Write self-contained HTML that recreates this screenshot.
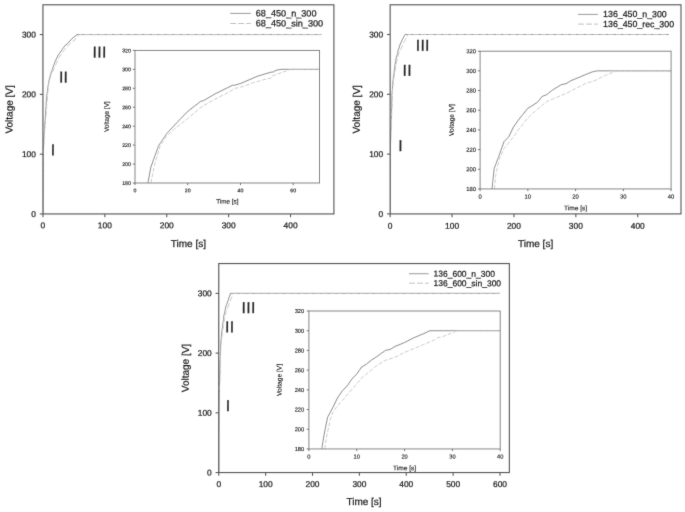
<!DOCTYPE html>
<html lang="en"><head><meta charset="utf-8"><title>Voltage vs time</title>
<style>
html,body{margin:0;padding:0;background:#fff;}
body{width:685px;height:512px;overflow:hidden;}
svg{display:block;}
svg text{font-family:'Liberation Sans', Arial, sans-serif;stroke:#1e1e1e;stroke-width:0.24px;text-rendering:geometricPrecision;}
svg text.s{stroke-width:0.15px;fill:#262626;stroke:#262626;}
</style></head><body>
<svg width="685" height="512" viewBox="0 0 685 512">
<defs><filter id="soft" x="0" y="0" width="685" height="512" filterUnits="userSpaceOnUse"><feConvolveMatrix order="3" kernelMatrix="0.0086 0.0757 0.0086 0.0757 0.6628 0.0757 0.0086 0.0757 0.0086" edgeMode="none" preserveAlpha="false"/></filter></defs>
<rect width="685" height="512" fill="#fff"/>
<g filter="url(#soft)">
<clipPath id="cm1"><rect x="42.95" y="4.8" width="290.95" height="209.15"/></clipPath>
<g clip-path="url(#cm1)" fill="none" stroke-opacity="0.78">
<path d="M42.95 213.95 L43.04 178.07 L43.44 148.17 L44.19 132.62 L45.32 117.07 L45.98 106.31 L46.66 96.38 L48.52 82.63 L50.5 74.8 L52.23 69.83 L53.66 65.71 L55.33 61.1 L58.36 54.76 L59.04 54.28 L61.89 49.86 L65.85 44.6 L66.47 44.48 L67.71 43.52 L71.73 38.86 L74.89 36.34 L75.45 36.16 L76.07 35.15 L77.24 34.55 L321.5 34.55" stroke="#222" stroke-width="0.65"/>
<path d="M42.95 213.95 L43.06 178.07 L43.54 148.17 L44.47 132.62 L45.85 117.07 L46.66 106.31 L47.59 94.35 L48.83 82.99 L50.38 76.41 L52.23 72.22 L55.33 65.65 L58.43 58.47 L61.52 53.69 L64.62 49.5 L66.47 46.51 L67.71 45.91 L70.81 42.92 L73.9 40.53 L74.83 40.23 L75.14 38.74 L77 36.94 L79.47 34.55 L321.5 34.55" stroke="#c6c6c6" stroke-width="0.95" stroke-opacity="1" stroke-dasharray="5.3 2.2"/>
</g>
<rect x="42.95" y="4.8" width="290.95" height="209.15" fill="none" stroke="#5a5a5a" stroke-width="1.15"/>
<line x1="42.95" y1="213.95" x2="42.95" y2="217.25" stroke="#5a5a5a" stroke-width="1.1"/>
<text transform="translate(42.95 228.35) rotate(0.2)" font-size="8.4" text-anchor="middle" fill="#1e1e1e">0</text>
<line x1="104.85" y1="213.95" x2="104.85" y2="217.25" stroke="#5a5a5a" stroke-width="1.1"/>
<text transform="translate(104.85 228.35) rotate(0.2)" font-size="8.4" text-anchor="middle" fill="#1e1e1e">100</text>
<line x1="166.75" y1="213.95" x2="166.75" y2="217.25" stroke="#5a5a5a" stroke-width="1.1"/>
<text transform="translate(166.75 228.35) rotate(0.2)" font-size="8.4" text-anchor="middle" fill="#1e1e1e">200</text>
<line x1="228.65" y1="213.95" x2="228.65" y2="217.25" stroke="#5a5a5a" stroke-width="1.1"/>
<text transform="translate(228.65 228.35) rotate(0.2)" font-size="8.4" text-anchor="middle" fill="#1e1e1e">300</text>
<line x1="290.55" y1="213.95" x2="290.55" y2="217.25" stroke="#5a5a5a" stroke-width="1.1"/>
<text transform="translate(290.55 228.35) rotate(0.2)" font-size="8.4" text-anchor="middle" fill="#1e1e1e">400</text>
<line x1="39.75" y1="213.95" x2="42.95" y2="213.95" stroke="#5a5a5a" stroke-width="1.1"/>
<text transform="translate(35.95 216.95) rotate(0.2)" font-size="8.4" text-anchor="end" fill="#1e1e1e">0</text>
<line x1="39.75" y1="154.15" x2="42.95" y2="154.15" stroke="#5a5a5a" stroke-width="1.1"/>
<text transform="translate(35.95 157.15) rotate(0.2)" font-size="8.4" text-anchor="end" fill="#1e1e1e">100</text>
<line x1="39.75" y1="94.35" x2="42.95" y2="94.35" stroke="#5a5a5a" stroke-width="1.1"/>
<text transform="translate(35.95 97.35) rotate(0.2)" font-size="8.4" text-anchor="end" fill="#1e1e1e">200</text>
<line x1="39.75" y1="34.55" x2="42.95" y2="34.55" stroke="#5a5a5a" stroke-width="1.1"/>
<text transform="translate(35.95 37.55) rotate(0.2)" font-size="8.4" text-anchor="end" fill="#1e1e1e">300</text>
<text transform="translate(188.42 247.05) rotate(0.2)" font-size="10" text-anchor="middle" fill="#1e1e1e">Time [s]</text>
<text transform="translate(12.65 109.38) rotate(-89.8)" font-size="10" text-anchor="middle" fill="#1e1e1e">Voltage [V]</text>
<text transform="translate(53.05 155.35) rotate(0.2)" font-size="15.8" text-anchor="middle" fill="#2a2a2a" letter-spacing="0.32" stroke="#2a2a2a" stroke-width="0.3">I</text>
<text transform="translate(63.58 82.55) rotate(0.2)" font-size="15.8" text-anchor="middle" fill="#2a2a2a" letter-spacing="0.32" stroke="#2a2a2a" stroke-width="0.3">II</text>
<text transform="translate(99.55 57.45) rotate(0.2)" font-size="15.8" text-anchor="middle" fill="#2a2a2a" letter-spacing="0.32" stroke="#2a2a2a" stroke-width="0.3">III</text>
<line x1="230.2" y1="13.4" x2="250.8" y2="13.4" stroke="#222" stroke-width="0.8" stroke-opacity="0.58"/>
<text transform="translate(255.8 16.3) rotate(0.2)" font-size="9.1" fill="#1e1e1e">68_450_n_300</text>
<line x1="230.2" y1="23.5" x2="250.8" y2="23.5" stroke="#b0b0b0" stroke-width="0.8" stroke-opacity="1" stroke-dasharray="5.9 2.15"/>
<text transform="translate(255.8 26.3) rotate(0.2)" font-size="9.1" fill="#1e1e1e">68_450_sin_300</text>
<clipPath id="ci1"><rect x="135" y="50.4" width="184.55" height="132.6"/></clipPath>
<g clip-path="url(#ci1)" fill="none" stroke-opacity="0.78">
<path d="M147.92 183 L150.82 167.28 L158.73 145.49 L167.16 133.09 L174.55 125.22 L180.61 118.69 L187.73 111.4 L200.65 101.36 L203.55 100.6 L215.67 93.59 L232.55 85.25 L235.18 85.07 L240.46 83.55 L257.59 76.16 L271.04 72.18 L273.41 71.9 L276.05 70.29 L281.06 69.34 L319.55 69.34" stroke="#222" stroke-width="0.65"/>
<path d="M150.82 183 L154.77 164.06 L160.05 146.06 L166.64 135.64 L174.55 129.01 L187.73 118.59 L200.91 107.23 L214.09 99.65 L227.28 93.02 L235.18 88.29 L240.46 87.34 L253.64 82.6 L266.82 78.81 L270.78 78.34 L272.09 75.97 L280 73.13 L290.55 69.34 L319.55 69.34" stroke="#c6c6c6" stroke-width="0.9" stroke-opacity="1" stroke-dasharray="4.0 1.8"/>
</g>
<rect x="135" y="50.4" width="184.55" height="132.6" fill="none" stroke="#7a7a7a" stroke-width="0.9"/>
<line x1="135" y1="183" x2="135" y2="185.2" stroke="#5a5a5a" stroke-width="0.8"/>
<text transform="translate(135 192.29) rotate(0.2)" font-size="5.19" text-anchor="middle" fill="#1e1e1e" class="s">0</text>
<line x1="187.73" y1="183" x2="187.73" y2="185.2" stroke="#5a5a5a" stroke-width="0.8"/>
<text transform="translate(187.73 192.29) rotate(0.2)" font-size="5.19" text-anchor="middle" fill="#1e1e1e" class="s">20</text>
<line x1="240.46" y1="183" x2="240.46" y2="185.2" stroke="#5a5a5a" stroke-width="0.8"/>
<text transform="translate(240.46 192.29) rotate(0.2)" font-size="5.19" text-anchor="middle" fill="#1e1e1e" class="s">40</text>
<line x1="293.19" y1="183" x2="293.19" y2="185.2" stroke="#5a5a5a" stroke-width="0.8"/>
<text transform="translate(293.19 192.29) rotate(0.2)" font-size="5.19" text-anchor="middle" fill="#1e1e1e" class="s">60</text>
<line x1="132.8" y1="183" x2="135" y2="183" stroke="#5a5a5a" stroke-width="0.8"/>
<text transform="translate(130.8 185) rotate(0.2)" font-size="5.19" text-anchor="end" fill="#1e1e1e" class="s">180</text>
<line x1="132.8" y1="164.06" x2="135" y2="164.06" stroke="#5a5a5a" stroke-width="0.8"/>
<text transform="translate(130.8 166.05) rotate(0.2)" font-size="5.19" text-anchor="end" fill="#1e1e1e" class="s">200</text>
<line x1="132.8" y1="145.11" x2="135" y2="145.11" stroke="#5a5a5a" stroke-width="0.8"/>
<text transform="translate(130.8 147.11) rotate(0.2)" font-size="5.19" text-anchor="end" fill="#1e1e1e" class="s">220</text>
<line x1="132.8" y1="126.17" x2="135" y2="126.17" stroke="#5a5a5a" stroke-width="0.8"/>
<text transform="translate(130.8 128.17) rotate(0.2)" font-size="5.19" text-anchor="end" fill="#1e1e1e" class="s">240</text>
<line x1="132.8" y1="107.23" x2="135" y2="107.23" stroke="#5a5a5a" stroke-width="0.8"/>
<text transform="translate(130.8 109.23) rotate(0.2)" font-size="5.19" text-anchor="end" fill="#1e1e1e" class="s">260</text>
<line x1="132.8" y1="88.29" x2="135" y2="88.29" stroke="#5a5a5a" stroke-width="0.8"/>
<text transform="translate(130.8 90.28) rotate(0.2)" font-size="5.19" text-anchor="end" fill="#1e1e1e" class="s">280</text>
<line x1="132.8" y1="69.34" x2="135" y2="69.34" stroke="#5a5a5a" stroke-width="0.8"/>
<text transform="translate(130.8 71.34) rotate(0.2)" font-size="5.19" text-anchor="end" fill="#1e1e1e" class="s">300</text>
<line x1="132.8" y1="50.4" x2="135" y2="50.4" stroke="#5a5a5a" stroke-width="0.8"/>
<text transform="translate(130.8 52.4) rotate(0.2)" font-size="5.19" text-anchor="end" fill="#1e1e1e" class="s">320</text>
<text transform="translate(227.28 203.47) rotate(0.2)" font-size="6.34" text-anchor="middle" fill="#1e1e1e" class="s">Time [s]</text>
<text transform="translate(108.8 116.7) rotate(-89.8)" font-size="6.34" text-anchor="middle" fill="#1e1e1e" class="s">Voltage [V]</text>
<clipPath id="cm2"><rect x="390.15" y="4.8" width="290.85" height="209.1"/></clipPath>
<g clip-path="url(#cm2)" fill="none" stroke-opacity="0.78">
<path d="M390.15 213.9 L390.2 178.02 L390.4 148.12 L390.78 132.57 L391.36 117.02 L391.7 106.26 L391.98 93.82 L392.63 85.93 L393.25 77.56 L393.86 74.57 L394.48 68.59 L395.1 64.4 L396.34 57.22 L397.58 53.64 L398.2 50.05 L398.82 48.85 L399.44 46.46 L400.67 42.87 L401.29 42.27 L401.91 40.48 L402.53 39.28 L403.77 36.89 L404.7 35.1 L405.32 34.5 L668.7 34.5" stroke="#222" stroke-width="0.65"/>
<path d="M390.15 213.9 L390.21 178.02 L390.45 148.12 L390.91 132.57 L391.6 117.02 L392.01 106.26 L392.19 97.29 L392.63 88.32 L393.25 81.74 L394.48 74.57 L395.1 70.38 L396.34 63.2 L396.96 60.21 L397.58 57.82 L398.82 53.04 L400.05 50.65 L401.29 48.25 L402.53 45.26 L403.77 42.27 L405.01 40.48 L406.24 37.49 L407.48 35.1 L408.1 34.5 L668.7 34.5" stroke="#c6c6c6" stroke-width="0.95" stroke-opacity="1" stroke-dasharray="5.3 2.2"/>
</g>
<rect x="390.15" y="4.8" width="290.85" height="209.1" fill="none" stroke="#5a5a5a" stroke-width="1.15"/>
<line x1="390.15" y1="213.9" x2="390.15" y2="217.2" stroke="#5a5a5a" stroke-width="1.1"/>
<text transform="translate(390.15 228.8) rotate(0.2)" font-size="8.4" text-anchor="middle" fill="#1e1e1e">0</text>
<line x1="452.05" y1="213.9" x2="452.05" y2="217.2" stroke="#5a5a5a" stroke-width="1.1"/>
<text transform="translate(452.05 228.8) rotate(0.2)" font-size="8.4" text-anchor="middle" fill="#1e1e1e">100</text>
<line x1="513.95" y1="213.9" x2="513.95" y2="217.2" stroke="#5a5a5a" stroke-width="1.1"/>
<text transform="translate(513.95 228.8) rotate(0.2)" font-size="8.4" text-anchor="middle" fill="#1e1e1e">200</text>
<line x1="575.85" y1="213.9" x2="575.85" y2="217.2" stroke="#5a5a5a" stroke-width="1.1"/>
<text transform="translate(575.85 228.8) rotate(0.2)" font-size="8.4" text-anchor="middle" fill="#1e1e1e">300</text>
<line x1="637.75" y1="213.9" x2="637.75" y2="217.2" stroke="#5a5a5a" stroke-width="1.1"/>
<text transform="translate(637.75 228.8) rotate(0.2)" font-size="8.4" text-anchor="middle" fill="#1e1e1e">400</text>
<line x1="386.95" y1="213.9" x2="390.15" y2="213.9" stroke="#5a5a5a" stroke-width="1.1"/>
<text transform="translate(383.15 216.9) rotate(0.2)" font-size="8.4" text-anchor="end" fill="#1e1e1e">0</text>
<line x1="386.95" y1="154.1" x2="390.15" y2="154.1" stroke="#5a5a5a" stroke-width="1.1"/>
<text transform="translate(383.15 157.1) rotate(0.2)" font-size="8.4" text-anchor="end" fill="#1e1e1e">100</text>
<line x1="386.95" y1="94.3" x2="390.15" y2="94.3" stroke="#5a5a5a" stroke-width="1.1"/>
<text transform="translate(383.15 97.3) rotate(0.2)" font-size="8.4" text-anchor="end" fill="#1e1e1e">200</text>
<line x1="386.95" y1="34.5" x2="390.15" y2="34.5" stroke="#5a5a5a" stroke-width="1.1"/>
<text transform="translate(383.15 37.5) rotate(0.2)" font-size="8.4" text-anchor="end" fill="#1e1e1e">300</text>
<text transform="translate(535.58 247) rotate(0.2)" font-size="10" text-anchor="middle" fill="#1e1e1e">Time [s]</text>
<text transform="translate(359.85 109.35) rotate(-89.8)" font-size="10" text-anchor="middle" fill="#1e1e1e">Voltage [V]</text>
<text transform="translate(400.55 151.05) rotate(0.2)" font-size="15.8" text-anchor="middle" fill="#2a2a2a" letter-spacing="0.32" stroke="#2a2a2a" stroke-width="0.3">I</text>
<text transform="translate(407.16 75.85) rotate(0.2)" font-size="15.8" text-anchor="middle" fill="#2a2a2a" letter-spacing="0.32" stroke="#2a2a2a" stroke-width="0.3">II</text>
<text transform="translate(422.76 50.65) rotate(0.2)" font-size="15.8" text-anchor="middle" fill="#2a2a2a" letter-spacing="0.32" stroke="#2a2a2a" stroke-width="0.3">III</text>
<line x1="578" y1="14.4" x2="597.9" y2="14.4" stroke="#222" stroke-width="0.8" stroke-opacity="0.58"/>
<text transform="translate(603.1 17) rotate(0.2)" font-size="8.8" fill="#1e1e1e">136_450_n_300</text>
<line x1="578" y1="24.1" x2="597.9" y2="24.1" stroke="#b0b0b0" stroke-width="0.8" stroke-opacity="1" stroke-dasharray="5.9 2.15"/>
<text transform="translate(603.1 27) rotate(0.2)" font-size="8.8" fill="#1e1e1e">136_450_rec_300</text>
<clipPath id="ci2"><rect x="480.1" y="51.2" width="191" height="137.75"/></clipPath>
<g clip-path="url(#ci2)" fill="none" stroke-opacity="0.78">
<path d="M492.04 188.95 L494.19 168.48 L499.2 155.5 L503.98 141.72 L508.75 136.8 L513.52 126.96 L518.3 120.07 L527.85 108.27 L537.4 102.36 L542.18 96.46 L546.95 94.49 L551.73 90.56 L561.28 84.65 L566.05 83.67 L570.83 80.72 L575.6 78.75 L585.15 74.81 L592.31 71.86 L597.09 70.88 L671.1 70.88" stroke="#222" stroke-width="0.65"/>
<path d="M494.43 188.95 L495.86 174.19 L499.2 159.43 L503.98 148.61 L513.52 136.8 L518.3 129.91 L527.85 118.11 L532.62 113.19 L537.4 109.25 L546.95 101.38 L556.5 97.44 L566.05 93.51 L575.6 88.59 L585.15 83.67 L594.7 80.72 L604.25 75.8 L613.8 71.86 L618.58 70.88 L671.1 70.88" stroke="#c6c6c6" stroke-width="0.9" stroke-opacity="1" stroke-dasharray="4.0 1.8"/>
</g>
<rect x="480.1" y="51.2" width="191" height="137.75" fill="none" stroke="#7a7a7a" stroke-width="0.9"/>
<line x1="480.1" y1="188.95" x2="480.1" y2="191.15" stroke="#5a5a5a" stroke-width="0.8"/>
<text transform="translate(480.1 198.5) rotate(0.2)" font-size="5.85" text-anchor="middle" fill="#1e1e1e" class="s">0</text>
<line x1="527.85" y1="188.95" x2="527.85" y2="191.15" stroke="#5a5a5a" stroke-width="0.8"/>
<text transform="translate(527.85 198.5) rotate(0.2)" font-size="5.85" text-anchor="middle" fill="#1e1e1e" class="s">10</text>
<line x1="575.6" y1="188.95" x2="575.6" y2="191.15" stroke="#5a5a5a" stroke-width="0.8"/>
<text transform="translate(575.6 198.5) rotate(0.2)" font-size="5.85" text-anchor="middle" fill="#1e1e1e" class="s">20</text>
<line x1="623.35" y1="188.95" x2="623.35" y2="191.15" stroke="#5a5a5a" stroke-width="0.8"/>
<text transform="translate(623.35 198.5) rotate(0.2)" font-size="5.85" text-anchor="middle" fill="#1e1e1e" class="s">30</text>
<line x1="671.1" y1="188.95" x2="671.1" y2="191.15" stroke="#5a5a5a" stroke-width="0.8"/>
<text transform="translate(671.1 198.5) rotate(0.2)" font-size="5.85" text-anchor="middle" fill="#1e1e1e" class="s">40</text>
<line x1="477.9" y1="188.95" x2="480.1" y2="188.95" stroke="#5a5a5a" stroke-width="0.8"/>
<text transform="translate(475.9 191.02) rotate(0.2)" font-size="5.85" text-anchor="end" fill="#1e1e1e" class="s">180</text>
<line x1="477.9" y1="169.27" x2="480.1" y2="169.27" stroke="#5a5a5a" stroke-width="0.8"/>
<text transform="translate(475.9 171.35) rotate(0.2)" font-size="5.85" text-anchor="end" fill="#1e1e1e" class="s">200</text>
<line x1="477.9" y1="149.59" x2="480.1" y2="149.59" stroke="#5a5a5a" stroke-width="0.8"/>
<text transform="translate(475.9 151.67) rotate(0.2)" font-size="5.85" text-anchor="end" fill="#1e1e1e" class="s">220</text>
<line x1="477.9" y1="129.91" x2="480.1" y2="129.91" stroke="#5a5a5a" stroke-width="0.8"/>
<text transform="translate(475.9 131.99) rotate(0.2)" font-size="5.85" text-anchor="end" fill="#1e1e1e" class="s">240</text>
<line x1="477.9" y1="110.24" x2="480.1" y2="110.24" stroke="#5a5a5a" stroke-width="0.8"/>
<text transform="translate(475.9 112.31) rotate(0.2)" font-size="5.85" text-anchor="end" fill="#1e1e1e" class="s">260</text>
<line x1="477.9" y1="90.56" x2="480.1" y2="90.56" stroke="#5a5a5a" stroke-width="0.8"/>
<text transform="translate(475.9 92.63) rotate(0.2)" font-size="5.85" text-anchor="end" fill="#1e1e1e" class="s">280</text>
<line x1="477.9" y1="70.88" x2="480.1" y2="70.88" stroke="#5a5a5a" stroke-width="0.8"/>
<text transform="translate(475.9 72.95) rotate(0.2)" font-size="5.85" text-anchor="end" fill="#1e1e1e" class="s">300</text>
<line x1="477.9" y1="51.2" x2="480.1" y2="51.2" stroke="#5a5a5a" stroke-width="0.8"/>
<text transform="translate(475.9 53.27) rotate(0.2)" font-size="5.85" text-anchor="end" fill="#1e1e1e" class="s">320</text>
<text transform="translate(575.6 210.21) rotate(0.2)" font-size="6.59" text-anchor="middle" fill="#1e1e1e" class="s">Time [s]</text>
<text transform="translate(453.8 120.07) rotate(-89.8)" font-size="6.59" text-anchor="middle" fill="#1e1e1e" class="s">Voltage [V]</text>
<clipPath id="cm3"><rect x="218.75" y="263.55" width="290.6" height="209"/></clipPath>
<g clip-path="url(#cm3)" fill="none" stroke-opacity="0.78">
<path d="M218.75 472.55 L218.79 436.71 L218.95 406.85 L219.27 391.32 L219.74 375.79 L220.02 365.04 L220.25 356.08 L220.58 345.92 L221.09 339.95 L221.56 333.98 L222.03 329.8 L222.5 326.81 L222.97 322.63 L223.44 319.64 L223.91 315.46 L224.38 313.67 L224.84 311.28 L225.31 309.49 L226.25 305.31 L226.72 304.71 L227.19 302.92 L228.13 300.53 L229.06 297.54 L230 295.15 L230.61 293.36 L500.03 293.36" stroke="#222" stroke-width="0.65"/>
<path d="M218.75 472.55 L218.8 436.71 L219 406.85 L219.38 391.32 L219.96 375.79 L220.3 365.04 L220.53 356.08 L220.86 347.12 L221.09 342.94 L221.56 338.75 L222.03 335.77 L222.5 332.18 L223.44 325.61 L223.91 322.03 L224.38 319.64 L225.31 314.86 L226.25 311.28 L227.19 309.49 L228.13 306.5 L229.06 304.11 L230 301.72 L230.94 299.33 L231.41 297.54 L231.88 296.94 L232.35 295.75 L233.28 293.36 L500.03 293.36" stroke="#c6c6c6" stroke-width="0.95" stroke-opacity="1" stroke-dasharray="5.3 2.2"/>
</g>
<rect x="218.75" y="263.55" width="290.6" height="209" fill="none" stroke="#5a5a5a" stroke-width="1.15"/>
<line x1="218.75" y1="472.55" x2="218.75" y2="475.85" stroke="#5a5a5a" stroke-width="1.1"/>
<text transform="translate(218.75 487) rotate(0.2)" font-size="8.4" text-anchor="middle" fill="#1e1e1e">0</text>
<line x1="265.63" y1="472.55" x2="265.63" y2="475.85" stroke="#5a5a5a" stroke-width="1.1"/>
<text transform="translate(265.63 487) rotate(0.2)" font-size="8.4" text-anchor="middle" fill="#1e1e1e">100</text>
<line x1="312.51" y1="472.55" x2="312.51" y2="475.85" stroke="#5a5a5a" stroke-width="1.1"/>
<text transform="translate(312.51 487) rotate(0.2)" font-size="8.4" text-anchor="middle" fill="#1e1e1e">200</text>
<line x1="359.39" y1="472.55" x2="359.39" y2="475.85" stroke="#5a5a5a" stroke-width="1.1"/>
<text transform="translate(359.39 487) rotate(0.2)" font-size="8.4" text-anchor="middle" fill="#1e1e1e">300</text>
<line x1="406.27" y1="472.55" x2="406.27" y2="475.85" stroke="#5a5a5a" stroke-width="1.1"/>
<text transform="translate(406.27 487) rotate(0.2)" font-size="8.4" text-anchor="middle" fill="#1e1e1e">400</text>
<line x1="453.15" y1="472.55" x2="453.15" y2="475.85" stroke="#5a5a5a" stroke-width="1.1"/>
<text transform="translate(453.15 487) rotate(0.2)" font-size="8.4" text-anchor="middle" fill="#1e1e1e">500</text>
<line x1="500.03" y1="472.55" x2="500.03" y2="475.85" stroke="#5a5a5a" stroke-width="1.1"/>
<text transform="translate(500.03 487) rotate(0.2)" font-size="8.4" text-anchor="middle" fill="#1e1e1e">600</text>
<line x1="215.55" y1="472.55" x2="218.75" y2="472.55" stroke="#5a5a5a" stroke-width="1.1"/>
<text transform="translate(211.75 475.55) rotate(0.2)" font-size="8.4" text-anchor="end" fill="#1e1e1e">0</text>
<line x1="215.55" y1="412.82" x2="218.75" y2="412.82" stroke="#5a5a5a" stroke-width="1.1"/>
<text transform="translate(211.75 415.82) rotate(0.2)" font-size="8.4" text-anchor="end" fill="#1e1e1e">100</text>
<line x1="215.55" y1="353.09" x2="218.75" y2="353.09" stroke="#5a5a5a" stroke-width="1.1"/>
<text transform="translate(211.75 356.09) rotate(0.2)" font-size="8.4" text-anchor="end" fill="#1e1e1e">200</text>
<line x1="215.55" y1="293.36" x2="218.75" y2="293.36" stroke="#5a5a5a" stroke-width="1.1"/>
<text transform="translate(211.75 296.36) rotate(0.2)" font-size="8.4" text-anchor="end" fill="#1e1e1e">300</text>
<text transform="translate(364.05 505.05) rotate(0.2)" font-size="10" text-anchor="middle" fill="#1e1e1e">Time [s]</text>
<text transform="translate(188.85 368.05) rotate(-89.8)" font-size="10" text-anchor="middle" fill="#1e1e1e">Voltage [V]</text>
<text transform="translate(228.13 411.05) rotate(0.2)" font-size="15.8" text-anchor="middle" fill="#2a2a2a" letter-spacing="0.32" stroke="#2a2a2a" stroke-width="0.3">I</text>
<text transform="translate(229.82 332.35) rotate(0.2)" font-size="15.8" text-anchor="middle" fill="#2a2a2a" letter-spacing="0.32" stroke="#2a2a2a" stroke-width="0.3">II</text>
<text transform="translate(248.56 313.1) rotate(0.2)" font-size="15.8" text-anchor="middle" fill="#2a2a2a" letter-spacing="0.32" stroke="#2a2a2a" stroke-width="0.3">III</text>
<line x1="409" y1="273.7" x2="428.6" y2="273.7" stroke="#222" stroke-width="0.8" stroke-opacity="0.58"/>
<text transform="translate(433.5 276.6) rotate(0.2)" font-size="8.5" fill="#1e1e1e">136_600_n_300</text>
<line x1="409" y1="283.2" x2="428.6" y2="283.2" stroke="#b0b0b0" stroke-width="0.8" stroke-opacity="1" stroke-dasharray="5.9 2.15"/>
<text transform="translate(433.5 286.1) rotate(0.2)" font-size="8.5" fill="#1e1e1e">136_600_sin_300</text>
<clipPath id="ci3"><rect x="308.9" y="311" width="191.3" height="137.95"/></clipPath>
<g clip-path="url(#ci3)" fill="none" stroke-opacity="0.78">
<path d="M321.81 448.95 L324.2 434.17 L327.55 417.42 L332.81 407.56 L337.59 397.71 L342.38 390.81 L347.16 385.89 L351.94 378.99 L356.72 374.06 L361.51 367.17 L366.29 364.21 L371.07 360.27 L375.86 357.31 L385.42 350.41 L390.2 349.43 L394.99 346.47 L404.55 342.53 L414.12 337.6 L423.68 333.66 L429.9 330.71 L500.2 330.71" stroke="#222" stroke-width="0.65"/>
<path d="M324.68 448.95 L327.07 434.17 L330.42 419.39 L332.81 412.49 L337.59 405.59 L342.38 400.67 L347.16 394.76 L356.72 383.92 L361.51 378 L366.29 374.06 L375.86 366.18 L385.42 360.27 L394.99 357.31 L404.55 352.38 L414.12 348.44 L423.68 344.5 L433.25 340.56 L438.03 337.6 L442.81 336.62 L447.59 334.65 L457.16 330.71 L500.2 330.71" stroke="#c6c6c6" stroke-width="0.9" stroke-opacity="1" stroke-dasharray="4.0 1.8"/>
</g>
<rect x="308.9" y="311" width="191.3" height="137.95" fill="none" stroke="#7a7a7a" stroke-width="0.9"/>
<line x1="308.9" y1="448.95" x2="308.9" y2="451.15" stroke="#5a5a5a" stroke-width="0.8"/>
<text transform="translate(308.9 458.61) rotate(0.2)" font-size="5.7" text-anchor="middle" fill="#1e1e1e" class="s">0</text>
<line x1="356.72" y1="448.95" x2="356.72" y2="451.15" stroke="#5a5a5a" stroke-width="0.8"/>
<text transform="translate(356.72 458.61) rotate(0.2)" font-size="5.7" text-anchor="middle" fill="#1e1e1e" class="s">10</text>
<line x1="404.55" y1="448.95" x2="404.55" y2="451.15" stroke="#5a5a5a" stroke-width="0.8"/>
<text transform="translate(404.55 458.61) rotate(0.2)" font-size="5.7" text-anchor="middle" fill="#1e1e1e" class="s">20</text>
<line x1="452.38" y1="448.95" x2="452.38" y2="451.15" stroke="#5a5a5a" stroke-width="0.8"/>
<text transform="translate(452.38 458.61) rotate(0.2)" font-size="5.7" text-anchor="middle" fill="#1e1e1e" class="s">30</text>
<line x1="500.2" y1="448.95" x2="500.2" y2="451.15" stroke="#5a5a5a" stroke-width="0.8"/>
<text transform="translate(500.2 458.61) rotate(0.2)" font-size="5.7" text-anchor="middle" fill="#1e1e1e" class="s">40</text>
<line x1="306.7" y1="448.95" x2="308.9" y2="448.95" stroke="#5a5a5a" stroke-width="0.8"/>
<text transform="translate(304.2 451.03) rotate(0.2)" font-size="5.7" text-anchor="end" fill="#1e1e1e" class="s">180</text>
<line x1="306.7" y1="429.24" x2="308.9" y2="429.24" stroke="#5a5a5a" stroke-width="0.8"/>
<text transform="translate(304.2 431.32) rotate(0.2)" font-size="5.7" text-anchor="end" fill="#1e1e1e" class="s">200</text>
<line x1="306.7" y1="409.54" x2="308.9" y2="409.54" stroke="#5a5a5a" stroke-width="0.8"/>
<text transform="translate(304.2 411.61) rotate(0.2)" font-size="5.7" text-anchor="end" fill="#1e1e1e" class="s">220</text>
<line x1="306.7" y1="389.83" x2="308.9" y2="389.83" stroke="#5a5a5a" stroke-width="0.8"/>
<text transform="translate(304.2 391.91) rotate(0.2)" font-size="5.7" text-anchor="end" fill="#1e1e1e" class="s">240</text>
<line x1="306.7" y1="370.12" x2="308.9" y2="370.12" stroke="#5a5a5a" stroke-width="0.8"/>
<text transform="translate(304.2 372.2) rotate(0.2)" font-size="5.7" text-anchor="end" fill="#1e1e1e" class="s">260</text>
<line x1="306.7" y1="350.41" x2="308.9" y2="350.41" stroke="#5a5a5a" stroke-width="0.8"/>
<text transform="translate(304.2 352.49) rotate(0.2)" font-size="5.7" text-anchor="end" fill="#1e1e1e" class="s">280</text>
<line x1="306.7" y1="330.71" x2="308.9" y2="330.71" stroke="#5a5a5a" stroke-width="0.8"/>
<text transform="translate(304.2 332.78) rotate(0.2)" font-size="5.7" text-anchor="end" fill="#1e1e1e" class="s">300</text>
<line x1="306.7" y1="311" x2="308.9" y2="311" stroke="#5a5a5a" stroke-width="0.8"/>
<text transform="translate(304.2 313.08) rotate(0.2)" font-size="5.7" text-anchor="end" fill="#1e1e1e" class="s">320</text>
<text transform="translate(404.55 470.24) rotate(0.2)" font-size="6.6" text-anchor="middle" fill="#1e1e1e" class="s">Time [s]</text>
<text transform="translate(281.5 379.98) rotate(-89.8)" font-size="6.6" text-anchor="middle" fill="#1e1e1e" class="s">Voltage [V]</text>
</g>
</svg>
</body></html>
